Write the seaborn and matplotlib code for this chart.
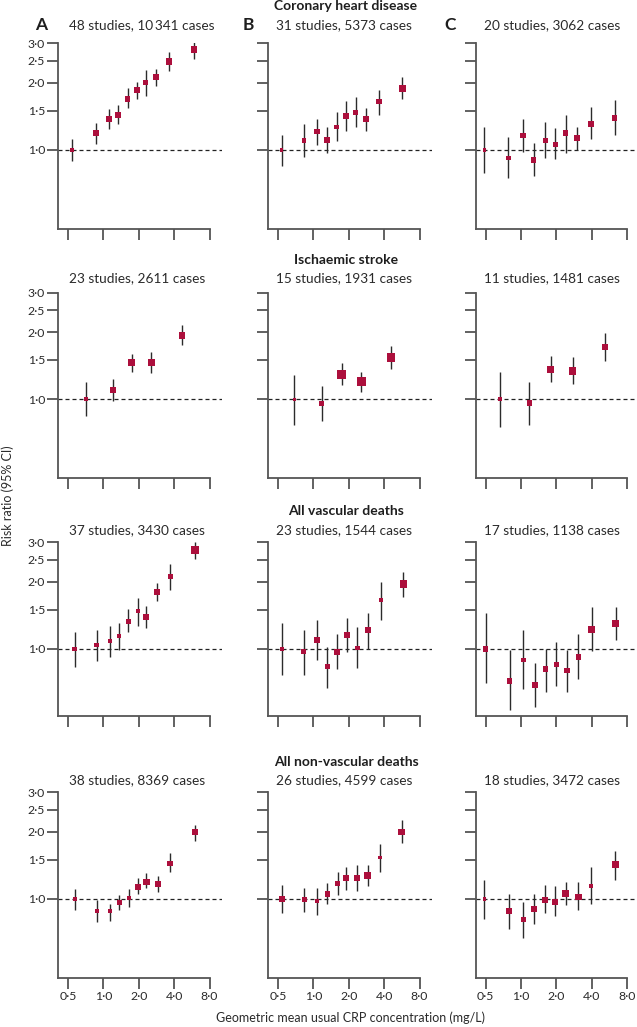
import numpy as np
import pandas as pd
import seaborn as sns
import matplotlib.pyplot as plt
from matplotlib.ticker import FixedLocator, NullLocator

# coronary heart disease
chd_a_crp = [0.54, 0.87, 1.12, 1.33, 1.61, 1.93, 2.30, 2.80, 3.63, 5.93]
chd_a_rr = [1.00, 1.19, 1.37, 1.43, 1.69, 1.86, 2.00, 2.12, 2.49, 2.81]
chd_a_lo = [0.89, 1.06, 1.24, 1.30, 1.54, 1.69, 1.75, 1.94, 2.26, 2.55]
chd_a_hi = [1.12, 1.32, 1.52, 1.59, 1.89, 2.02, 2.28, 2.29, 2.74, 3.05]
chd_a_wt = [4.0, 5.7, 6.0, 6.0, 5.3, 5.7, 4.7, 5.7, 6.3, 6.3]

chd_b_crp = [0.54, 0.84, 1.07, 1.31, 1.58, 1.91, 2.29, 2.80, 3.63, 5.73]
chd_b_rr = [1.00, 1.10, 1.21, 1.11, 1.27, 1.42, 1.47, 1.37, 1.65, 1.88]
chd_b_lo = [0.85, 0.93, 1.05, 0.97, 1.10, 1.22, 1.27, 1.22, 1.43, 1.69]
chd_b_hi = [1.17, 1.31, 1.38, 1.26, 1.48, 1.65, 1.72, 1.54, 1.86, 2.11]
chd_b_wt = [3.3, 4.3, 5.7, 6.0, 4.3, 5.7, 4.3, 6.0, 5.3, 6.7]

chd_c_crp = [0.49, 0.78, 1.04, 1.28, 1.61, 1.96, 2.40, 3.00, 3.93, 6.25]
chd_c_rr = [1.00, 0.92, 1.16, 0.90, 1.10, 1.06, 1.19, 1.13, 1.31, 1.39]
chd_c_lo = [0.79, 0.75, 0.98, 0.76, 0.92, 0.91, 0.97, 1.00, 1.12, 1.17]
chd_c_hi = [1.27, 1.14, 1.37, 1.07, 1.33, 1.25, 1.43, 1.27, 1.55, 1.68]
chd_c_wt = [3.3, 4.7, 5.3, 5.7, 5.3, 4.7, 5.3, 6.7, 5.7, 5.7]

# ischaemic stroke
str_a_crp = [0.72, 1.21, 1.75, 2.56, 4.68]
str_a_rr = [1.00, 1.10, 1.46, 1.46, 1.93]
str_a_lo = [0.84, 0.98, 1.32, 1.31, 1.75]
str_a_hi = [1.20, 1.23, 1.60, 1.62, 2.15]
str_a_wt = [4.0, 6.3, 7.0, 7.0, 6.7]

str_b_crp = [0.69, 1.18, 1.74, 2.57, 4.55]
str_b_rr = [1.00, 0.96, 1.29, 1.20, 1.54]
str_b_lo = [0.77, 0.80, 1.16, 1.08, 1.37]
str_b_hi = [1.29, 1.15, 1.45, 1.33, 1.73]
str_b_wt = [3.3, 4.7, 8.3, 8.3, 8.3]

str_c_crp = [0.67, 1.18, 1.79, 2.75, 5.17]
str_c_rr = [1.00, 0.96, 1.36, 1.34, 1.71]
str_c_lo = [0.75, 0.77, 1.19, 1.17, 1.48]
str_c_hi = [1.33, 1.20, 1.56, 1.55, 1.99]
str_c_wt = [4.0, 5.7, 7.3, 7.7, 6.0]

# all vascular deaths
vas_a_crp = [0.57, 0.88, 1.14, 1.37, 1.63, 1.97, 2.33, 2.86, 3.70, 6.00]
vas_a_rr = [1.00, 1.04, 1.08, 1.14, 1.33, 1.48, 1.39, 1.79, 2.10, 2.78]
vas_a_lo = [0.83, 0.88, 0.92, 0.99, 1.19, 1.27, 1.24, 1.63, 1.83, 2.52]
vas_a_hi = [1.19, 1.21, 1.27, 1.30, 1.51, 1.69, 1.56, 1.97, 2.40, 3.00]
vas_a_wt = [4.3, 4.7, 4.0, 4.3, 5.0, 4.3, 6.0, 6.0, 5.0, 7.7]

vas_b_crp = [0.54, 0.83, 1.07, 1.32, 1.60, 1.95, 2.37, 2.94, 3.77, 5.83]
vas_b_rr = [1.00, 0.97, 1.10, 0.83, 0.97, 1.15, 1.01, 1.21, 1.65, 1.95]
vas_b_lo = [0.76, 0.76, 0.89, 0.67, 0.81, 0.97, 0.82, 1.00, 1.35, 1.70]
vas_b_hi = [1.30, 1.21, 1.35, 1.02, 1.17, 1.37, 1.25, 1.44, 2.00, 2.22]
vas_b_wt = [4.0, 5.0, 6.0, 5.0, 6.0, 6.0, 4.7, 6.0, 4.0, 7.3]

vas_c_crp = [0.50, 0.80, 1.05, 1.32, 1.62, 2.00, 2.46, 3.08, 3.98, 6.40]
vas_c_rr = [1.00, 0.72, 0.89, 0.69, 0.81, 0.85, 0.80, 0.92, 1.22, 1.30]
vas_c_lo = [0.70, 0.53, 0.66, 0.55, 0.64, 0.68, 0.64, 0.73, 0.98, 1.10]
vas_c_hi = [1.44, 0.99, 1.21, 0.86, 1.00, 1.07, 0.99, 1.17, 1.54, 1.54]
vas_c_wt = [5.3, 5.7, 4.3, 6.0, 5.7, 5.7, 5.7, 5.3, 6.7, 7.3]

# all non-vascular deaths
nvd_a_crp = [0.57, 0.88, 1.14, 1.37, 1.65, 1.97, 2.33, 2.91, 3.68, 6.00]
nvd_a_rr = [1.00, 0.88, 0.88, 0.96, 1.01, 1.13, 1.19, 1.17, 1.44, 1.99]
nvd_a_lo = [0.89, 0.79, 0.80, 0.89, 0.92, 1.05, 1.12, 1.07, 1.32, 1.81]
nvd_a_hi = [1.11, 0.99, 0.95, 1.04, 1.11, 1.24, 1.30, 1.27, 1.60, 2.14]
nvd_a_wt = [4.0, 4.3, 4.3, 5.3, 4.3, 5.7, 6.7, 6.0, 5.7, 5.7]

nvd_b_crp = [0.54, 0.84, 1.08, 1.32, 1.61, 1.90, 2.35, 2.90, 3.69, 5.65]
nvd_b_rr = [1.00, 0.99, 0.98, 1.05, 1.17, 1.24, 1.24, 1.27, 1.53, 1.99]
nvd_b_lo = [0.86, 0.87, 0.85, 0.95, 1.04, 1.10, 1.09, 1.14, 1.32, 1.78]
nvd_b_hi = [1.15, 1.12, 1.12, 1.18, 1.32, 1.39, 1.42, 1.42, 1.76, 2.25]
nvd_b_wt = [5.7, 4.7, 4.0, 5.7, 5.7, 6.0, 6.0, 6.7, 3.7, 6.7]

nvd_c_crp = [0.49, 0.79, 1.05, 1.30, 1.60, 1.96, 2.41, 3.07, 3.96, 6.34]
nvd_c_rr = [1.00, 0.88, 0.81, 0.90, 0.99, 0.97, 1.06, 1.02, 1.14, 1.43]
nvd_c_lo = [0.81, 0.73, 0.67, 0.77, 0.86, 0.84, 0.94, 0.89, 0.95, 1.22]
nvd_c_hi = [1.22, 1.05, 0.97, 1.05, 1.15, 1.14, 1.19, 1.19, 1.39, 1.63]
nvd_c_wt = [3.7, 6.0, 5.0, 5.7, 5.7, 5.7, 7.0, 6.7, 4.0, 6.7]

outcomes = ["Coronary heart disease", "Ischaemic stroke",
            "All vascular deaths", "All non-vascular deaths"]
subtitles = [
    ["48 studies, 10\u2009341 cases", "31 studies, 5373 cases", "20 studies, 3062 cases"],
    ["23 studies, 2611 cases", "15 studies, 1931 cases", "11 studies, 1481 cases"],
    ["37 studies, 3430 cases", "23 studies, 1544 cases", "17 studies, 1138 cases"],
    ["38 studies, 8369 cases", "26 studies, 4599 cases", "18 studies, 3472 cases"],
]
letters = ["A", "B", "C"]
x_ticks = [0.5, 1.0, 2.0, 4.0, 8.0]
x_ticklabels = ["0\u00b75", "1\u00b70", "2\u00b70", "4\u00b70", "8\u00b70"]
y_ticks = [1.0, 1.5, 2.0, 2.5, 3.0]
y_ticklabels = ["1\u00b70", "1\u00b75", "2\u00b70", "2\u00b75", "3\u00b70"]


def panel_frame(crp, rr, lo, hi, wt):
    return pd.DataFrame({"crp": crp, "rr": rr, "lo": lo, "hi": hi, "wt": wt})


panels = [
    [panel_frame(chd_a_crp, chd_a_rr, chd_a_lo, chd_a_hi, chd_a_wt),
     panel_frame(chd_b_crp, chd_b_rr, chd_b_lo, chd_b_hi, chd_b_wt),
     panel_frame(chd_c_crp, chd_c_rr, chd_c_lo, chd_c_hi, chd_c_wt)],
    [panel_frame(str_a_crp, str_a_rr, str_a_lo, str_a_hi, str_a_wt),
     panel_frame(str_b_crp, str_b_rr, str_b_lo, str_b_hi, str_b_wt),
     panel_frame(str_c_crp, str_c_rr, str_c_lo, str_c_hi, str_c_wt)],
    [panel_frame(vas_a_crp, vas_a_rr, vas_a_lo, vas_a_hi, vas_a_wt),
     panel_frame(vas_b_crp, vas_b_rr, vas_b_lo, vas_b_hi, vas_b_wt),
     panel_frame(vas_c_crp, vas_c_rr, vas_c_lo, vas_c_hi, vas_c_wt)],
    [panel_frame(nvd_a_crp, nvd_a_rr, nvd_a_lo, nvd_a_hi, nvd_a_wt),
     panel_frame(nvd_b_crp, nvd_b_rr, nvd_b_lo, nvd_b_hi, nvd_b_wt),
     panel_frame(nvd_c_crp, nvd_c_rr, nvd_c_lo, nvd_c_hi, nvd_c_wt)],
]

sns.set_style("ticks")
plt.rcParams['font.family'] = ['Lato', 'DejaVu Sans']

RED = "#ac0f3c"
AXC = "#555555"
TXT = "#2a2a2a"
W, H = 637, 1027
fig = plt.figure(figsize=(W / 100, H / 100), dpi=100)

# layout in pixels
col_left = [58.3, 268.3, 476.0]
row_top = [43.3, 292.7, 542.3, 792.3]
row_ymin = [0.444, 0.444, 0.5, 0.444]
sub_x = [69, 275.7, 484.3]
title_base = [10, 263.5, 515, 766]
sub_base = [29.5, 282.5, 534, 784.5]
XMIN, XMAX = 0.415, 10.3
PX_X, PX_Y = 51.1, 97.0
ax_w = np.log(XMAX / XMIN) * PX_X


def fig_text(px, py, s, **kw):
    fig.text(px / W, 1 - py / H, s, **kw)


for r in range(4):
    ax_h = np.log(3.0 / row_ymin[r]) * PX_Y
    for c in range(3):
        df = panels[r][c]
        ax = fig.add_axes([col_left[c] / W, 1 - (row_top[r] + ax_h) / H, ax_w / W, ax_h / H])
        ax.set_xscale("log")
        ax.set_yscale("log")
        ax.set_xlim(XMIN, XMAX)
        ax.set_ylim(row_ymin[r], 3.0)

        ax.axhline(1.0, color="#222222", lw=0.9, ls=(0, (3.2, 2.4)), zorder=1)
        ax.vlines(df["crp"], df["lo"], df["hi"], color="#2b2b2b", lw=1.0, zorder=2)
        sns.scatterplot(data=df, x="crp", y="rr", marker="s", s=(df["wt"] * 0.72) ** 2,
                        color=RED, linewidth=0, legend=False, ax=ax, zorder=3)

        ax.set_xlabel("")
        ax.set_ylabel("")
        sns.despine(ax=ax)
        ax.spines["bottom"].set_bounds(XMIN, 8.0)
        for sp in ("left", "bottom"):
            ax.spines[sp].set_color(AXC)
            ax.spines[sp].set_linewidth(1.3)
        ax.xaxis.set_major_locator(FixedLocator(x_ticks))
        ax.xaxis.set_minor_locator(NullLocator())
        ax.yaxis.set_major_locator(FixedLocator(y_ticks))
        ax.yaxis.set_minor_locator(NullLocator())
        ax.tick_params(axis="both", direction="out", length=8, width=1.3, color=AXC,
                       labelsize=8.8, labelcolor=TXT, pad=1.5)
        if c == 0:
            ax.set_yticklabels(y_ticklabels)
        else:
            ax.set_yticklabels([])
        if r == 3:
            ax.set_xticklabels(x_ticklabels)
        else:
            ax.set_xticklabels([])

        fig_text(sub_x[c], sub_base[r], subtitles[r][c], fontsize=9.8, color=TXT,
                 ha="left", va="baseline")
    fig_text(346, title_base[r], outcomes[r], fontsize=10, fontweight="bold",
             color="#1e1e1e", ha="center", va="baseline")

for c, lx in enumerate([41, 248, 450]):
    fig_text(lx, 29.5, letters[c], fontsize=12.5, fontweight="bold", color="#1e1e1e",
             ha="center", va="baseline")

fig_text(350, 1018, "Geometric mean usual CRP concentration (mg/L)", fontsize=9,
         color=TXT, ha="center", va="center")
fig_text(8, 496, "Risk ratio (95% CI)", fontsize=9, color=TXT, rotation=90,
         ha="center", va="center")

fig.savefig("out.png", dpi=100)
